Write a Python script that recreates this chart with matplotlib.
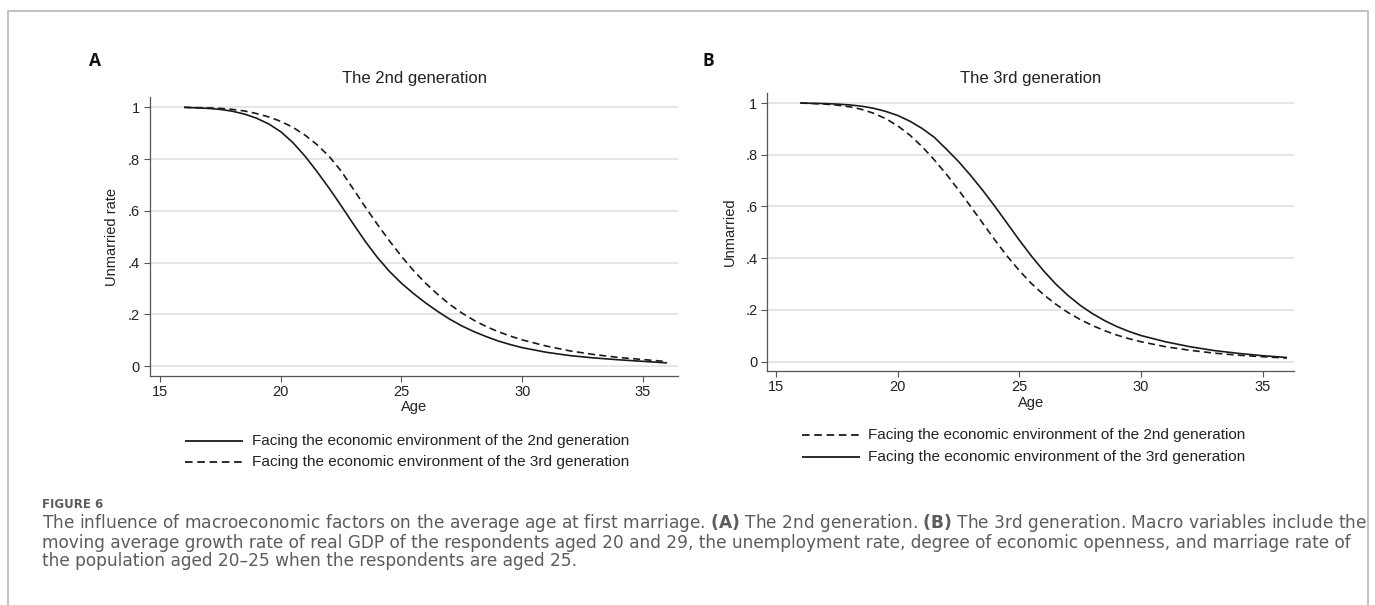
import matplotlib
matplotlib.use("Agg")
import matplotlib.pyplot as plt
from matplotlib.lines import Line2D

# ---------------- data ----------------
ages = [16, 17, 17.5, 18, 18.5, 19, 19.5, 20, 20.5, 21,
        21.5, 22, 22.5, 23, 23.5, 24, 24.5, 25, 25.5, 26,
        26.5, 27, 27.5, 28, 28.5, 29, 29.5, 30,
        31, 32, 33, 34, 35, 36]

# Panel A: the 2nd generation
a_env2 = [1.000, 0.996, 0.992, 0.985, 0.974, 0.958, 0.936, 0.906, 0.864, 0.812,
          0.752, 0.688, 0.620, 0.550, 0.482, 0.420, 0.366, 0.320, 0.280, 0.244,
          0.211, 0.181, 0.155, 0.133, 0.114, 0.097, 0.083, 0.071,
          0.053, 0.040, 0.031, 0.024, 0.018, 0.012]
a_env3 = [1.000, 0.998, 0.996, 0.992, 0.986, 0.976, 0.963, 0.946, 0.923, 0.893,
          0.856, 0.811, 0.754, 0.685, 0.615, 0.548, 0.484, 0.424, 0.369, 0.320,
          0.277, 0.238, 0.205, 0.177, 0.153, 0.133, 0.116, 0.101,
          0.077, 0.058, 0.044, 0.033, 0.025, 0.017]

# Panel B: the 3rd generation
b_env2 = [1.000, 0.996, 0.992, 0.986, 0.976, 0.961, 0.940, 0.912, 0.876, 0.832,
          0.781, 0.725, 0.664, 0.600, 0.535, 0.470, 0.408, 0.352, 0.302, 0.259,
          0.222, 0.190, 0.163, 0.140, 0.120, 0.103, 0.089, 0.077,
          0.058, 0.044, 0.033, 0.025, 0.019, 0.014]
b_env3 = [1.000, 0.998, 0.996, 0.993, 0.988, 0.980, 0.968, 0.952, 0.930, 0.902,
          0.868, 0.822, 0.774, 0.720, 0.662, 0.600, 0.535, 0.470, 0.408, 0.351,
          0.300, 0.256, 0.218, 0.186, 0.159, 0.136, 0.117, 0.101,
          0.077, 0.058, 0.043, 0.032, 0.023, 0.016]

xticks = [15, 20, 25, 30, 35]
yticks = [0, 0.2, 0.4, 0.6, 0.8, 1.0]
ytick_labels = ["0", ".2", ".4", ".6", ".8", "1"]

panel_letters = ["A", "B"]
panel_titles = ["The 2nd generation", "The 3rd generation"]
ylabels = ["Unmarried rate", "Unmarried"]
xlabel = "Age"
label_env2 = "Facing the economic environment of the 2nd generation"
label_env3 = "Facing the economic environment of the 3rd generation"

fig_label = "FIGURE 6"
caption_lines = [
    r"The influence of macroeconomic factors on the average age at first marriage. $\mathbf{(A)}$ The 2nd generation. $\mathbf{(B)}$ The 3rd generation. Macro variables include the",
    "moving average growth rate of real GDP of the respondents aged 20 and 29, the unemployment rate, degree of economic openness, and marriage rate of",
    "the population aged 20\u201325 when the respondents are aged 25.",
]

# ---------------- layout ----------------
W, H = 1375, 605
fig = plt.figure(figsize=(W / 100, H / 100), dpi=100)
fig.patch.set_facecolor("white")
renderer = fig.canvas.get_renderer()

plt.rcParams["mathtext.fontset"] = "custom"
plt.rcParams["mathtext.rm"] = "DejaVu Sans"
plt.rcParams["mathtext.bf"] = "DejaVu Sans:bold"

CHART_FONT = ["Liberation Sans", "DejaVu Sans"]
CAP_FONT = ["DejaVu Sans"]
TXT = "#222222"
AX_COL = "#555555"
LINE_COL = "#1a1a1a"
CAP_COL = "#5c5c5c"
DASH = (0, (4.2, 2.6))


def fx(x):
    return x / W


def fy(y):
    return 1 - y / H


def fit_width(t, target):
    for _ in range(4):
        w = t.get_window_extent(renderer).width
        t.set_fontsize(t.get_fontsize() * target / w)
    return t


# outer frame (top/left/right)
fig.add_artist(Line2D([fx(8), fx(8), fx(1367.5), fx(1367.5)],
                      [fy(606), fy(10.5), fy(10.5), fy(606)],
                      transform=fig.transFigure, color="#bcbcbc", lw=1.3))

panels = [
    dict(l=149.6, r=677.7, t=97.0, b=375.7, xlim=(14.57, 36.44),
         ylim=(-0.0375, 1.04), series=[(a_env2, "-"), (a_env3, DASH)],
         leg=[("-", label_env2), (DASH, label_env3)],
         letter=(95, 61), title=(415, 78), ylab=(112.5, 237), xlab=(414, 407),
         leg_x=(185, 243, 252), leg_y=(440.7, 461.7)),
    dict(l=767.0, r=1294.0, t=92.7, b=370.7, xlim=(14.63, 36.29),
         ylim=(-0.035, 1.04), series=[(b_env2, DASH), (b_env3, "-")],
         leg=[(DASH, label_env2), ("-", label_env3)],
         letter=(708.5, 61), title=(1031, 78), ylab=(729.6, 232), xlab=(1031, 403),
         leg_x=(802, 860, 868), leg_y=(435, 456.7)),
]

for i, p in enumerate(panels):
    ax = fig.add_axes([fx(p["l"]), fy(p["b"]), (p["r"] - p["l"]) / W,
                       (p["b"] - p["t"]) / H])
    ax.set_xlim(*p["xlim"])
    ax.set_ylim(*p["ylim"])
    for vals, ls in p["series"]:
        ax.plot(ages, vals, color=LINE_COL, lw=1.2, linestyle=ls,
                solid_capstyle="butt", dash_capstyle="butt",
                solid_joinstyle="round")
    ax.set_xticks(xticks)
    ax.set_xticklabels([str(v) for v in xticks])
    ax.set_yticks(yticks)
    ax.set_yticklabels(ytick_labels)
    ax.yaxis.grid(True, color="#e6e6e6", lw=1.4)
    ax.set_axisbelow(True)
    for s in ("top", "right"):
        ax.spines[s].set_visible(False)
    for s in ("left", "bottom"):
        ax.spines[s].set_color(AX_COL)
        ax.spines[s].set_linewidth(0.9)
    ax.tick_params(direction="out", length=4, width=0.8, color=AX_COL,
                   labelcolor=TXT, labelsize=10.5, pad=3)
    for lab in ax.get_xticklabels() + ax.get_yticklabels():
        lab.set_family(CHART_FONT)

    # panel letter, title, axis labels
    fig.text(fx(p["letter"][0]), fy(p["letter"][1]), panel_letters[i],
             fontsize=12.5, fontweight="bold", family=["Open Sans", "DejaVu Sans"],
             color="#111111", ha="center", va="center")
    fig.text(fx(p["title"][0]), fy(p["title"][1]), panel_titles[i],
             fontsize=12, family=CHART_FONT, color=TXT, ha="center", va="center")
    fig.text(fx(p["ylab"][0]), fy(p["ylab"][1]), ylabels[i], rotation=90,
             fontsize=10.5, family=CHART_FONT, color=TXT, ha="center", va="center")
    fig.text(fx(p["xlab"][0]), fy(p["xlab"][1]), xlabel,
             fontsize=10.5, family=CHART_FONT, color=TXT, ha="center", va="center")

    # legend (drawn below the plot)
    x0, x1, xt = p["leg_x"]
    for (ls, lab), yy in zip(p["leg"], p["leg_y"]):
        fig.add_artist(Line2D([fx(x0), fx(x1)], [fy(yy), fy(yy)],
                              transform=fig.transFigure, color=LINE_COL,
                              lw=1.3, linestyle=ls, dash_capstyle="butt",
                              solid_capstyle="butt"))
        lt = fig.text(fx(xt), fy(yy), lab, fontsize=10, family=CHART_FONT,
                      color=TXT, ha="left", va="center")
        fit_width(lt, 377)

# caption
fig.text(fx(42.5), fy(508), fig_label, fontsize=8.5, fontweight="bold",
         family=CAP_FONT, color=CAP_COL, ha="left", va="baseline")
cap_base = [528.5, 547.5, 566.5]
first = fig.text(fx(42.5), fy(cap_base[0]), caption_lines[0], fontsize=10,
                 family=CAP_FONT, color=CAP_COL, ha="left", va="baseline")
fit_width(first, 1322)
cap_size = first.get_fontsize()
for line, yy in zip(caption_lines[1:], cap_base[1:]):
    fig.text(fx(42.5), fy(yy), line, fontsize=cap_size, family=CAP_FONT,
             color=CAP_COL, ha="left", va="baseline")

fig.savefig("out.png", dpi=100, facecolor="white")
